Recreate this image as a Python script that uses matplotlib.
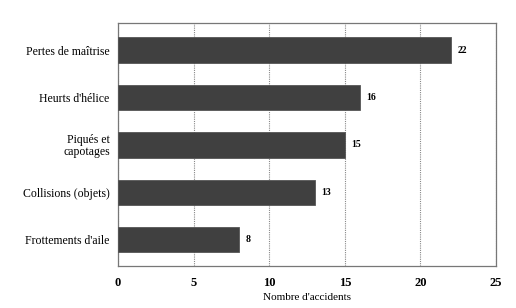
import matplotlib
matplotlib.use("Agg")
import matplotlib.pyplot as plt

categories = ["Pertes de maîtrise", "Heurts d'hélice", "Piqués et\ncapotages", "Collisions (objets)", "Frottements d'aile"]
values = [22, 16, 15, 13, 8]
xticks = [0, 5, 10, 15, 20, 25]

plt.rcParams['font.family'] = ['Liberation Serif', 'DejaVu Serif']

fig = plt.figure(figsize=(5.16, 3.08), dpi=100)
ax = fig.add_axes([118/516, 1-266/308, (496-118)/516, (266-23)/308])

y = list(range(len(categories)))
ax.barh(y, values, height=0.53, color='#404040', edgecolor='#555555', linewidth=0.6, zorder=3)
for yi, v in zip(y, values):
    ax.text(v + 0.45, yi, str(v), va='center', ha='left', fontsize=7, fontweight='bold')

ax.set_ylim(4.55, -0.57)
ax.set_xlim(0, 25)
ax.set_xticks(xticks)
ax.set_xticklabels([str(t) for t in xticks], fontsize=9, fontweight='bold')
ax.set_yticks(y)
ax.set_yticklabels(categories, fontsize=8.5, linespacing=1.0)
ax.tick_params(length=0, pad=6)
ax.tick_params(axis='x', pad=8)
ax.grid(axis='x', linestyle=(0, (1, 1)), color='#888888', linewidth=0.8, zorder=0)
for s in ax.spines.values():
    s.set_color('#777777')
    s.set_linewidth(0.9)
ax.set_xlabel("Nombre d'accidents", fontsize=8, labelpad=3)

fig.savefig("out.png", dpi=100)
